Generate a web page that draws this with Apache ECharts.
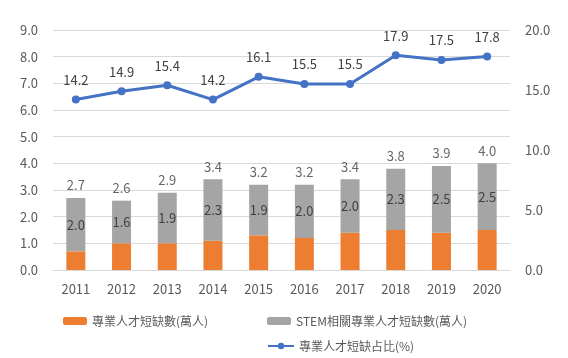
<!DOCTYPE html>
<html><head><meta charset="utf-8">
<script src="https://cdn.jsdelivr.net/npm/echarts@6/dist/echarts.min.js"></script>
<style>html,body{margin:0;padding:0;background:#fff}#c{width:568px;height:358px}</style>
</head><body><div id="c"></div>
<script>
const years = ['2011','2012','2013','2014','2015','2016','2017','2018','2019','2020'];
const talentShort = [0.7,1.0,1.0,1.1,1.3,1.2,1.4,1.5,1.4,1.5];
const stemShort = [2.0,1.6,1.9,2.3,1.9,2.0,2.0,2.3,2.5,2.5];
const totals = [2.7,2.6,2.9,3.4,3.2,3.2,3.4,3.8,3.9,4.0];
const shortRatio = [14.2,14.9,15.4,14.2,16.1,15.5,15.5,17.9,17.5,17.8];
const leftTicks = [0,9,1];
const rightTicks = [0,20,5];

const F = '"Noto Sans CJK TC", sans-serif';
const TXT = '#595959';
const chart = echarts.init(document.getElementById('c'));
chart.setOption({
  animation:false,
  textStyle:{fontFamily:F},
  grid:{left:53,right:58,top:30,bottom:88},
  legend:[
    {data:['專業人才短缺數(萬人)'],left:58,top:310,itemWidth:24,itemHeight:8,textStyle:{fontSize:12,color:TXT,fontFamily:F}},
    {data:['STEM相關專業人才短缺數(萬人)'],left:262,top:310,itemWidth:24,itemHeight:8,textStyle:{fontSize:12,color:TXT,fontFamily:F}},
    {data:['專業人才短缺占比(%)'],left:262,top:335,itemWidth:26,itemHeight:8,textStyle:{fontSize:12,color:TXT,fontFamily:F}}
  ],
  xAxis:{type:'category',data:years,axisTick:{show:false},
    axisLine:{lineStyle:{color:'#D9D9D9'}},
    axisLabel:{color:TXT,fontSize:13,margin:13,fontFamily:F}},
  yAxis:[
    {type:'value',min:leftTicks[0],max:leftTicks[1],interval:leftTicks[2],
     axisLabel:{color:TXT,fontSize:13,margin:15,formatter:v=>v.toFixed(1),fontFamily:F},
     splitLine:{lineStyle:{color:'#D9D9D9'}},axisLine:{show:false},axisTick:{show:false}},
    {type:'value',min:rightTicks[0],max:rightTicks[1],interval:rightTicks[2],
     axisLabel:{color:TXT,fontSize:13,margin:15,formatter:v=>v.toFixed(1),fontFamily:F},
     splitLine:{show:false},axisLine:{show:false},axisTick:{show:false}}
  ],
  series:[
    {name:'專業人才短缺數(萬人)',type:'bar',stack:'a',data:talentShort,barWidth:19,
     itemStyle:{color:'#ED7D31'}},
    {name:'STEM相關專業人才短缺數(萬人)',type:'bar',stack:'a',data:stemShort,barWidth:19,
     itemStyle:{color:'#A5A5A5'},
     label:{show:true,position:'inside',color:'#404040',fontSize:13,fontFamily:F,formatter:p=>p.value.toFixed(1)}},
    {name:'總計',type:'scatter',data:totals,symbolSize:0,silent:true,
     label:{show:true,position:'top',distance:6,color:'#404040',fontSize:13,fontFamily:F,formatter:p=>p.value.toFixed(1)}},
    {name:'專業人才短缺占比(%)',type:'line',yAxisIndex:1,data:shortRatio,
     symbol:'circle',symbolSize:8,lineStyle:{color:'#4472C4',width:3},itemStyle:{color:'#4472C4'},
     label:{show:true,position:'top',distance:9,color:'#404040',fontSize:13,fontFamily:F,formatter:p=>p.value.toFixed(1)}}
  ]
});
</script></body></html>
